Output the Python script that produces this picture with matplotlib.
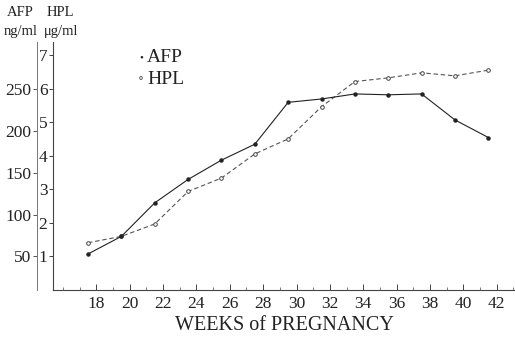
import matplotlib
matplotlib.use("Agg")
import matplotlib.pyplot as plt
from matplotlib.ticker import MultipleLocator

plt.rcParams['font.family'] = ['Liberation Serif', 'DejaVu Serif']

# weeks of pregnancy (midpoints of 2-week groups)
weeks = [17.5, 19.5, 21.5, 23.5, 25.5, 27.5, 29.5, 31.5, 33.5, 35.5, 37.5, 39.5, 41.5]
afp = [53, 74, 114, 142, 165, 184, 234, 238, 244, 243, 244, 213, 192]
hpl = [1.41, 1.60, 1.97, 2.94, 3.34, 4.06, 4.51, 5.47, 6.22, 6.33, 6.48, 6.39, 6.56]

week_ticks = [18, 20, 22, 24, 26, 28, 30, 32, 34, 36, 38, 40, 42]
hpl_ticks = [1, 2, 3, 4, 5, 6, 7]
afp_ticks = [50, 100, 150, 200, 250]

fig = plt.figure(figsize=(5.15, 3.37), dpi=100)
ax = fig.add_axes([53 / 515, 47 / 337, 462 / 515, 248 / 337])

# HPL axis (inner)
ax.set_xlim(15.4, 43.1)
ax.set_ylim(0, 7.4)
ax.set_xticks(week_ticks)
ax.xaxis.set_minor_locator(MultipleLocator(1))
ax.set_yticks(hpl_ticks)
for s in ['top', 'right']:
    ax.spines[s].set_visible(False)
for s in ['left', 'bottom']:
    ax.spines[s].set_linewidth(0.8)
    ax.spines[s].set_color('#444444')
ax.tick_params(axis='x', direction='in', length=4, width=0.7, colors='#444444',
               labelsize=12.5, labelcolor='#222222', pad=4)
ax.tick_params(axis='x', which='minor', direction='in', length=2, width=0.6, colors='#666666')
ax.tick_params(axis='y', direction='out', length=3, width=0.7, colors='#444444',
               labelsize=12.5, labelcolor='#222222', pad=1)
ax.set_xlabel('WEEKS of PREGNANCY', fontsize=14.5, color='#222222', labelpad=3)

ax.plot(weeks, hpl, color='#555555', lw=0.8, ls=(0, (4, 2.5)),
        marker='o', ms=2.6, mfc='white', mec='#444444', mew=0.7)

# AFP axis (outer)
ax2 = ax.twinx()
ax2.set_ylim(10, 306)
ax2.set_yticks(afp_ticks)
ax2.yaxis.set_ticks_position('left')
ax2.spines['left'].set_position(('outward', 11.5))
ax2.spines['left'].set_linewidth(0.7)
ax2.spines['left'].set_color('#777777')
for s in ['top', 'right', 'bottom']:
    ax2.spines[s].set_visible(False)
ax2.tick_params(axis='y', direction='out', length=3, width=0.7, colors='#555555',
                labelsize=12.5, labelcolor='#222222', pad=1)

ax2.plot(weeks, afp, color='#222222', lw=0.8,
         marker='o', ms=2.2, mfc='#222222', mec='#222222')

# legend
fig.text(141 / 515, 1 - 58 / 337, '•', fontsize=8, ha='center', va='center', color='#222222')
fig.text(147 / 515, 1 - 58 / 337, 'AFP', fontsize=14, va='center', color='#222222')
fig.text(141 / 515, 1 - 79 / 337, '∘', fontsize=9, ha='center', va='center', color='#444444')
fig.text(147 / 515, 1 - 79 / 337, 'HPL', fontsize=14, va='center', color='#222222')

# axis unit labels
fig.text(20 / 515, 1 - 12 / 337, 'AFP', fontsize=10.5, ha='center', va='center', color='#222222')
fig.text(21 / 515, 1 - 31 / 337, 'ng/ml', fontsize=10.5, ha='center', va='center', color='#222222')
fig.text(60 / 515, 1 - 12 / 337, 'HPL', fontsize=10.5, ha='center', va='center', color='#222222')
fig.text(61 / 515, 1 - 31 / 337, 'μg/ml', fontsize=10.5, ha='center', va='center', color='#222222')

fig.savefig('out.png', dpi=100)
